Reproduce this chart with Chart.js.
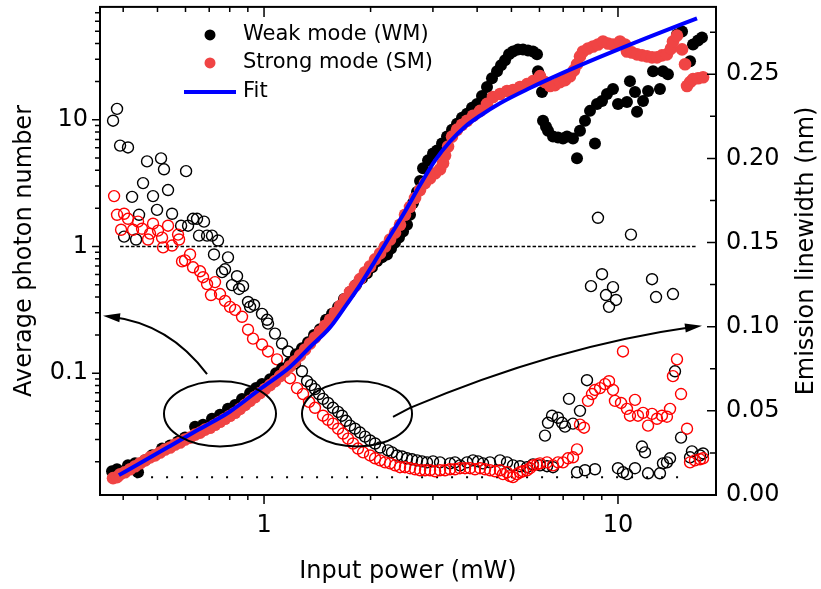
<!DOCTYPE html>
<html>
<head>
<meta charset="utf-8">
<script src="https://cdn.jsdelivr.net/npm/chart.js@4.4.0/dist/chart.umd.min.js"></script>
<style>
  html, body { margin: 0; padding: 0; background: #fff; }
</style>
</head>
<body>
<canvas id="photonChart" width="821" height="589"></canvas>
<script>
// filled symbols: average photon number vs input power (left axis)
var wmPower = [0.372,0.3843,0.4127,0.4322,0.4406,0.4611,0.4828,0.5151,0.5428,0.5716,0.598,0.6385,0.6725,0.7128,0.751,0.791,0.8283,0.8666,0.913,0.9493,0.987,1.04,1.081,1.124,1.184,1.231,1.28,1.331,1.384,1.439,1.497,1.556,1.619,1.682,1.75,1.819,1.892,1.954,2.019,2.085,2.154,2.226,2.285,2.345,2.406,2.47,2.535,2.585,2.636,2.705,2.759,2.813,2.906,3.002,3.081,3.183,3.288,3.397,3.509,3.625,3.745,3.869,3.998,4.129,4.265,4.406,4.552,4.673,4.796,4.922,5.051,5.218,5.39,5.57,5.753,5.905,5.943,5.982,6.1,6.14,6.261,6.343,6.553,6.77,6.993,7.177,7.463,7.66,7.81,8.069,8.336,8.61,8.724,9.013,9.31,9.68,10.0,10.6,10.81,11.17,11.32,11.77,12.16,12.56,13.14,13.4,13.84,14.68,15.17,15.98,16.29,16.83,17.27];
var wmPhoton = [0.01685,0.01746,0.01877,0.01945,0.01655,0.02055,0.02248,0.02546,0.0269,0.0289,0.03105,0.03786,0.03926,0.04373,0.04699,0.05235,0.05622,0.06265,0.06981,0.07632,0.08208,0.08975,0.1001,0.1094,0.1219,0.1411,0.1572,0.1753,0.2006,0.2219,0.2642,0.2943,0.3336,0.3853,0.4373,0.4959,0.5623,0.6152,0.6852,0.7633,0.8204,0.866,0.9646,1.075,1.176,1.31,1.485,1.778,2.207,2.69,3.28,4.14,4.78,5.425,5.728,6.494,7.36,8.35,9.307,10.37,11.14,12.41,13.34,15.4,18.11,21.28,24.14,26.9,29.43,32.8,34.6,35.9,35.9,35.24,34.6,32.8,24.14,22.87,16.55,9.82,8.816,8.2,7.36,7.23,7.107,7.36,7.107,4.96,8.2,9.82,11.75,6.494,13.34,14.07,15.97,17.47,13.34,13.83,20.17,16.55,11.55,14.07,16.86,24.14,17.47,24.14,22.87,46.99,49.6,28.9,39.25,42.17,44.5];
var smPower = [0.3745,0.3843,0.392,0.4046,0.4182,0.4322,0.4464,0.4611,0.4764,0.4922,0.5084,0.5252,0.5428,0.5605,0.5791,0.598,0.618,0.6385,0.6595,0.6813,0.7036,0.727,0.751,0.7759,0.8015,0.8283,0.8554,0.884,0.913,0.9432,0.974,1.0065,1.04,1.074,1.11,1.146,1.184,1.223,1.264,1.306,1.349,1.393,1.439,1.487,1.536,1.587,1.64,1.693,1.75,1.807,1.867,1.929,1.993,2.059,2.127,2.197,2.27,2.345,2.422,2.502,2.585,2.671,2.759,2.85,2.944,3.043,3.142,3.204,3.246,3.311,3.397,3.509,3.625,3.745,3.894,4.077,4.265,4.435,4.642,4.858,5.051,5.286,5.533,5.753,6.02,6.22,6.426,6.637,6.858,7.085,7.318,7.511,7.66,7.81,7.964,8.228,8.501,8.779,9.072,9.371,9.68,10.13,10.47,10.6,10.95,11.32,11.69,12.08,12.48,12.89,13.31,13.75,14.12,14.3,14.68,15.17,15.47,15.67,15.98,16.29,16.83,17.39];
var smPhoton = [0.01486,0.01513,0.01596,0.01655,0.01747,0.01844,0.01946,0.02054,0.02168,0.02248,0.02371,0.02502,0.02594,0.02738,0.02838,0.02997,0.03105,0.03278,0.03397,0.03586,0.03717,0.03924,0.04142,0.04372,0.04613,0.0487,0.05235,0.05623,0.06045,0.06494,0.0698,0.075,0.08058,0.0866,0.09478,0.1037,0.1135,0.1241,0.1383,0.154,0.1716,0.1911,0.2131,0.2371,0.2642,0.2997,0.3398,0.3853,0.4373,0.487,0.5524,0.6264,0.698,0.7915,0.8816,1.0,1.134,1.286,1.485,1.778,2.054,2.414,2.787,3.162,3.459,3.784,4.066,4.53,5.23,6.15,7.36,8.35,9.14,9.82,10.75,11.75,13.34,15.12,15.97,16.86,17.15,18.11,19.11,20.17,22.07,19.8,18.44,18.77,19.8,20.54,22.07,24.55,27.38,31.62,34.6,36.52,37.87,39.25,41.4,39.96,39.25,41.4,39.25,34.6,33.98,32.8,32.2,31.62,31.06,31.06,32.2,32.8,36.52,41.4,46.1,35.9,27.38,18.44,19.8,20.9,21.28,21.67];
var fitPower = [0.389,0.446,0.543,0.66,0.802,0.974,1.184,1.349,1.536,1.693,1.867,2.059,2.27,2.502,2.759,3.043,3.353,3.697,4.077,4.642,5.642,6.858,8.897,12.31,16.72];
var fitPhoton = [0.0157,0.0195,0.0267,0.0365,0.0499,0.0748,0.112,0.161,0.23,0.334,0.496,0.77,1.21,1.89,3.05,4.78,6.73,8.82,10.75,13.5,17.8,22.9,31.3,45.3,63.2];

// open symbols: emission linewidth (nm) vs input power (right axis)
var wmLwPower = [0.3745,0.3843,0.392,0.4023,0.4127,0.4238,0.435,0.4435,0.4552,0.4672,0.4857,0.4985,0.5117,0.5216,0.5355,0.5497,0.583,0.6022,0.61,0.6301,0.6467,0.6552,0.6768,0.6902,0.7128,0.7222,0.7413,0.7609,0.7759,0.791,0.812,0.8389,0.85,0.8724,0.9012,0.913,0.937,0.987,1.0197,1.0264,1.074,1.124,1.169,1.223,1.28,1.323,1.358,1.393,1.43,1.468,1.516,1.566,1.619,1.661,1.704,1.75,1.807,1.867,1.929,1.993,2.059,2.127,2.24,2.299,2.375,2.454,2.535,2.619,2.705,2.794,2.887,3.002,3.142,3.353,3.463,3.578,3.745,3.894,4.023,4.156,4.349,4.642,4.858,5.051,5.286,5.533,5.753,6.02,6.22,6.302,6.343,6.512,6.553,6.77,6.95,7.085,7.272,7.463,7.66,7.81,8.069,8.174,8.389,8.61,8.779,9.013,9.25,9.433,9.68,9.872,10.0,10.33,10.6,10.88,11.17,11.69,11.92,12.16,12.48,12.81,13.14,13.4,13.75,14.03,14.3,14.49,15.07,15.98,16.18,17.05,17.39];
var wmLinewidth = [0.2224,0.2294,0.2076,0.1535,0.2065,0.1771,0.1518,0.1665,0.1853,0.1982,0.1776,0.1694,0.2,0.1935,0.1812,0.1671,0.16,0.1924,0.16,0.1641,0.1641,0.1541,0.1624,0.1541,0.1541,0.1429,0.1512,0.1324,0.1341,0.1412,0.1247,0.13,0.1224,0.1241,0.1147,0.1118,0.1129,0.1076,0.1041,0.1018,0.0959,0.09,0.0853,0.0782,0.0735,0.0676,0.0653,0.0629,0.06,0.0571,0.0547,0.0518,0.0494,0.0471,0.0441,0.0412,0.0394,0.0371,0.0347,0.0324,0.0306,0.0282,0.0265,0.0253,0.0235,0.0229,0.0218,0.0212,0.0206,0.02,0.0194,0.02,0.0194,0.0188,0.0194,0.0176,0.0194,0.0206,0.02,0.0188,0.0194,0.0206,0.0194,0.0176,0.0171,0.0165,0.0182,0.0176,0.0353,0.0171,0.0429,0.0471,0.0165,0.0459,0.0429,0.0406,0.0571,0.0424,0.0135,0.05,0.0147,0.0682,0.1241,0.0153,0.1647,0.1312,0.1188,0.1118,0.1235,0.1159,0.0159,0.0135,0.0124,0.1547,0.0159,0.0288,0.0253,0.0129,0.1282,0.1176,0.0129,0.0188,0.0194,0.0218,0.1194,0.0735,0.0341,0.0224,0.0259,0.0235,0.0247];
var smLwPower = [0.377,0.3843,0.3945,0.4023,0.4127,0.4266,0.4406,0.4522,0.4702,0.4764,0.4857,0.5017,0.5151,0.5185,0.5355,0.5497,0.5716,0.5754,0.5867,0.598,0.618,0.6301,0.6595,0.6725,0.6902,0.7082,0.727,0.751,0.7759,0.8015,0.8283,0.8666,0.9012,0.9309,0.987,1.0264,1.088,1.131,1.184,1.239,1.289,1.34,1.393,1.468,1.516,1.566,1.619,1.672,1.727,1.784,1.843,1.905,1.993,2.059,2.127,2.197,2.27,2.345,2.422,2.502,2.585,2.671,2.759,2.85,2.944,3.043,3.142,3.246,3.353,3.463,3.578,3.697,3.819,3.945,4.077,4.21,4.349,4.493,4.642,4.733,4.858,4.953,5.051,5.185,5.286,5.39,5.533,5.642,5.753,5.905,6.02,6.302,6.553,6.77,6.993,7.226,7.463,7.66,7.81,8.017,8.228,8.445,8.61,8.897,9.191,9.433,9.68,9.806,10.2,10.33,10.6,10.81,11.17,11.39,11.77,12.16,12.48,12.89,13.31,13.75,14.03,14.3,14.68,15.07,15.67,15.98,16.5,17.05,17.39];
var smLinewidth = [0.1776,0.1665,0.1576,0.1671,0.1641,0.1576,0.1624,0.1582,0.1518,0.1553,0.1612,0.1571,0.1529,0.1471,0.16,0.1482,0.1547,0.1518,0.1388,0.1394,0.1429,0.1353,0.1329,0.1294,0.1253,0.1188,0.1265,0.1194,0.1153,0.1118,0.11,0.1059,0.0982,0.0929,0.0894,0.0853,0.0806,0.0747,0.0694,0.0635,0.06,0.0553,0.0518,0.0471,0.0447,0.0424,0.0394,0.0365,0.0335,0.0306,0.0276,0.0253,0.0235,0.0218,0.0206,0.0194,0.0188,0.0176,0.0165,0.0165,0.0159,0.0153,0.0147,0.0147,0.0147,0.0141,0.0147,0.0147,0.0153,0.0153,0.0159,0.0159,0.0159,0.0153,0.0159,0.0153,0.0147,0.0141,0.0147,0.0124,0.0135,0.0112,0.0106,0.0124,0.0135,0.0141,0.0147,0.0159,0.0176,0.0182,0.0188,0.0194,0.0176,0.0194,0.0194,0.0218,0.0224,0.0271,0.0418,0.04,0.0559,0.06,0.0624,0.0635,0.0659,0.0676,0.0624,0.0559,0.0547,0.0853,0.0512,0.0471,0.0565,0.0471,0.0488,0.0412,0.0482,0.0453,0.0471,0.0465,0.0512,0.0706,0.0806,0.06,0.0394,0.0194,0.0206,0.0212,0.0218];

// ticks
var xMajorTicks = [1, 10];
var xMinorTicks = [0.4,0.5,0.6,0.7,0.8,0.9,2,3,4,5,6,7,8,9];
var yMajorTicks = [0.1, 1, 10];
var yMinorTicks = [0.02,0.03,0.04,0.05,0.06,0.07,0.08,0.09,0.2,0.3,0.4,0.5,0.6,0.7,0.8,0.9,2,3,4,5,6,7,8,9,20,30,40,50,60,70];
var y2MajorTicks = [0, 0.05, 0.1, 0.15, 0.2, 0.25];
var y2MinorTicks = [0.025, 0.075, 0.125, 0.175, 0.225, 0.275];

// guide lines and annotations, in data units
var thresholdPhoton = 1;
var thresholdSpan = [0.392, 16.72];
var resolutionWidth = 0.0106;
var resolutionSpan = [0.435, 15.6];
var ellipseLeft = { x: [0.5216, 1.081], y: [0.02642, 0.0866] };
var ellipseRight = { x: [1.28, 2.619], y: [0.02642, 0.0866] };
var arrowLeft = [[0.6902, 0.0982], [0.5392, 0.246], [0.3508, 0.2838]];
var arrowRight = [[2.314, 0.0453], [2.585, 0.0533], [6.68, 0.164], [17.27, 0.2371]];

var legendLabels = ['Weak mode (WM)', 'Strong mode (SM)', 'Fit'];

var red = 'rgb(240,68,68)';
var blue = 'rgb(0,0,255)';
var fontFamily = "'DejaVu Sans', sans-serif";

function pts(xs, ys) {
    var out = [];
    for (var i = 0; i < xs.length; i++) out.push({ x: xs[i], y: ys[i] });
    return out;
}

function arrowHead(ctx, tip, from, len, half) {
    var a = Math.atan2(tip[1] - from[1], tip[0] - from[0]);
    var bx = tip[0] - len * Math.cos(a), by = tip[1] - len * Math.sin(a);
    ctx.beginPath();
    ctx.moveTo(tip[0], tip[1]);
    ctx.lineTo(bx + half * Math.sin(a), by - half * Math.cos(a));
    ctx.lineTo(bx - half * Math.sin(a), by + half * Math.cos(a));
    ctx.closePath();
    ctx.fill();
}

// vertical axes: keep Chart.js from reserving room above/below for labels
function fixedWidth(w) {
    return function (sc) { sc.width = w; sc.paddingTop = 0; sc.paddingBottom = 0; };
}

var decorations = {
    id: 'decorations',
    beforeDatasetsDraw: function (chart) {
        var ctx = chart.ctx, x = chart.scales.x, y = chart.scales.y, y2 = chart.scales.y2;
        ctx.save();
        ctx.strokeStyle = '#000';
        ctx.lineWidth = 1.5;
        ctx.setLineDash([3.5, 2]);
        ctx.beginPath();
        ctx.moveTo(x.getPixelForValue(thresholdSpan[0]), y.getPixelForValue(thresholdPhoton));
        ctx.lineTo(x.getPixelForValue(thresholdSpan[1]), y.getPixelForValue(thresholdPhoton));
        ctx.stroke();
        ctx.lineWidth = 2;
        ctx.setLineDash([2, 13]);
        ctx.beginPath();
        ctx.moveTo(x.getPixelForValue(resolutionSpan[0]), y2.getPixelForValue(resolutionWidth));
        ctx.lineTo(x.getPixelForValue(resolutionSpan[1]), y2.getPixelForValue(resolutionWidth));
        ctx.stroke();
        ctx.restore();
    },
    afterDatasetsDraw: function (chart) {
        var ctx = chart.ctx, x = chart.scales.x, y = chart.scales.y, area = chart.chartArea;
        var p = function (d) { return [x.getPixelForValue(d[0]), y.getPixelForValue(d[1])]; };
        ctx.save();
        ctx.strokeStyle = '#000';
        ctx.fillStyle = '#000';
        ctx.lineWidth = 2;
        [ellipseLeft, ellipseRight].forEach(function (e) {
            var x0 = x.getPixelForValue(e.x[0]), x1 = x.getPixelForValue(e.x[1]);
            var y0 = y.getPixelForValue(e.y[0]), y1 = y.getPixelForValue(e.y[1]);
            ctx.beginPath();
            ctx.ellipse((x0 + x1) / 2, (y0 + y1) / 2, Math.abs(x1 - x0) / 2, Math.abs(y1 - y0) / 2, 0, 0, Math.PI * 2);
            ctx.stroke();
        });
        // left arrow, curving to the photon number axis
        var s = p(arrowLeft[0]), c = p(arrowLeft[1]), e = p(arrowLeft[2]);
        ctx.beginPath();
        ctx.moveTo(s[0], s[1]);
        ctx.quadraticCurveTo(c[0], c[1], e[0] + 8, e[1] + 1);
        ctx.stroke();
        arrowHead(ctx, e, c, 17, 4.5);
        // right arrow, to the linewidth axis
        var r0 = p(arrowRight[0]), r1 = p(arrowRight[1]), rc = p(arrowRight[2]), re = p(arrowRight[3]);
        ctx.beginPath();
        ctx.moveTo(r0[0], r0[1]);
        ctx.lineTo(r1[0], r1[1]);
        ctx.quadraticCurveTo(rc[0], rc[1], re[0] - 8, re[1] + 1);
        ctx.stroke();
        arrowHead(ctx, re, rc, 17, 4.5);

        // legend
        var lx = area.left + 110, ly = area.top + 28;
        ctx.font = '21px ' + fontFamily;
        ctx.textBaseline = 'middle';
        ctx.textAlign = 'left';
        ctx.beginPath(); ctx.arc(lx, ly, 5.5, 0, Math.PI * 2); ctx.fill();
        ctx.fillText(legendLabels[0], lx + 33, ly);
        ctx.fillStyle = red;
        ctx.beginPath(); ctx.arc(lx, ly + 28, 5.5, 0, Math.PI * 2); ctx.fill();
        ctx.fillStyle = '#000';
        ctx.fillText(legendLabels[1], lx + 33, ly + 28);
        ctx.strokeStyle = blue;
        ctx.lineWidth = 4;
        ctx.beginPath(); ctx.moveTo(lx - 26, ly + 57); ctx.lineTo(lx + 26, ly + 57); ctx.stroke();
        ctx.fillText(legendLabels[2], lx + 33, ly + 57);
        ctx.restore();
    },
    afterDraw: function (chart) {
        var ctx = chart.ctx, a = chart.chartArea, s = chart.scales;
        ctx.save();
        ctx.strokeStyle = '#000';
        ctx.lineWidth = 2;
        ctx.strokeRect(a.left, a.top, a.right - a.left, a.bottom - a.top);
        ctx.lineWidth = 1.5;
        ctx.beginPath();
        xMajorTicks.concat(xMinorTicks).forEach(function (v) {
            var px = s.x.getPixelForValue(v), major = xMajorTicks.indexOf(v) >= 0;
            ctx.moveTo(px, a.bottom); ctx.lineTo(px, a.bottom + (major ? 9 : 5));
            ctx.moveTo(px, a.top); ctx.lineTo(px, a.top + (major ? 10 : 5));
        });
        yMajorTicks.concat(yMinorTicks).forEach(function (v) {
            var py = s.y.getPixelForValue(v), major = yMajorTicks.indexOf(v) >= 0;
            ctx.moveTo(a.left, py); ctx.lineTo(a.left - (major ? 8 : 5), py);
        });
        y2MajorTicks.concat(y2MinorTicks).forEach(function (v) {
            var py = s.y2.getPixelForValue(v), major = y2MajorTicks.indexOf(v) >= 0;
            ctx.moveTo(a.right, py); ctx.lineTo(a.right - (major ? 9 : 6), py);
        });
        ctx.stroke();
        // right axis title reads bottom to top
        ctx.fillStyle = '#000';
        ctx.font = '24px ' + fontFamily;
        ctx.textAlign = 'center';
        ctx.textBaseline = 'alphabetic';
        ctx.translate(813, (a.top + a.bottom) / 2);
        ctx.rotate(-Math.PI / 2);
        ctx.fillText('Emission linewidth (nm)', 0, 0);
        ctx.restore();
    }
};

Chart.defaults.font.family = fontFamily;
Chart.defaults.color = '#000';

new Chart(document.getElementById('photonChart'), {
    type: 'scatter',
    data: {
        datasets: [
            { label: 'Fit', data: pts(fitPower, fitPhoton), yAxisID: 'y', showLine: true, borderColor: blue, borderWidth: 4,
              pointRadius: 0, cubicInterpolationMode: 'monotone', order: 0 },
            { label: 'Strong mode (SM)', data: pts(smPower, smPhoton), yAxisID: 'y', backgroundColor: red, borderWidth: 0,
              pointRadius: 6.3, order: 1 },
            { label: 'Weak mode (WM)', data: pts(wmPower, wmPhoton), yAxisID: 'y', backgroundColor: '#000', borderWidth: 0,
              pointRadius: 6, order: 2 },
            { label: 'SM linewidth', data: pts(smLwPower, smLinewidth), yAxisID: 'y2', backgroundColor: 'rgba(255,255,255,0)',
              borderColor: 'rgb(255,0,0)', borderWidth: 1.4, pointRadius: 5.5, order: 3 },
            { label: 'WM linewidth', data: pts(wmLwPower, wmLinewidth), yAxisID: 'y2', backgroundColor: 'rgba(255,255,255,0)',
              borderColor: '#000', borderWidth: 1.4, pointRadius: 5.5, order: 4 }
        ]
    },
    options: {
        responsive: false,
        animation: false,
        devicePixelRatio: 1,
        events: [],
        layout: { padding: { top: 2, left: 0, right: 0, bottom: 0 } },
        plugins: { legend: { display: false }, tooltip: { enabled: false } },
        scales: {
            x: {
                type: 'logarithmic', position: 'bottom', min: 0.344, max: 18.92, bounds: 'data',
                grid: { display: false, drawTicks: false }, border: { display: false },
                afterBuildTicks: function (sc) { sc.ticks = xMajorTicks.map(function (v) { return { value: v }; }); },
                afterFit: function (sc) { sc.height = 94; },
                ticks: { font: { size: 24 }, padding: 16, maxRotation: 0, autoSkip: false,
                         callback: function (v) { return String(v); } },
                title: { display: true, text: 'Input power (mW)', font: { size: 24 }, padding: { top: 0, bottom: 3 } }
            },
            y: {
                type: 'logarithmic', position: 'left', min: 0.01094, max: 77.7, bounds: 'data',
                grid: { display: false, drawTicks: false }, border: { display: false },
                afterBuildTicks: function (sc) { sc.ticks = yMajorTicks.map(function (v) { return { value: v }; }); },
                afterFit: fixedWidth(100),
                ticks: { font: { size: 24 }, padding: 12, autoSkip: false,
                         callback: function (v) { return String(v); } },
                title: { display: true, text: 'Average photon number', font: { size: 24 }, padding: { top: 10, bottom: 0 } }
            },
            y2: {
                type: 'linear', position: 'right', min: 0, max: 0.29, bounds: 'data',
                grid: { display: false, drawTicks: false }, border: { display: false },
                afterBuildTicks: function (sc) { sc.ticks = y2MajorTicks.map(function (v) { return { value: v }; }); },
                afterFit: fixedWidth(105),
                ticks: { font: { size: 24 }, padding: 10, autoSkip: false,
                         callback: function (v) { return v.toFixed(2); } }
            }
        }
    },
    plugins: [decorations]
});
</script>
</body>
</html>
